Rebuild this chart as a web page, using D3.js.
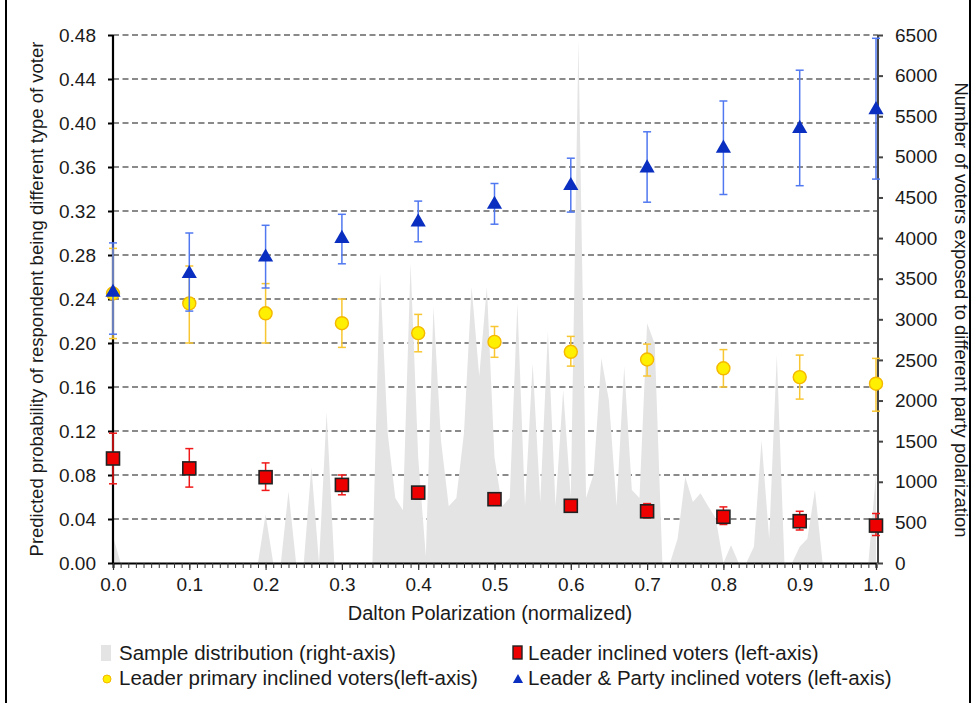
<!DOCTYPE html>
<html>
<head>
<meta charset="utf-8">
<script src="https://d3js.org/d3.v7.min.js"></script>
<style>
body { margin: 0; background: #fff; }
svg text { font-family: "Liberation Sans", Arial, sans-serif; fill: #1a1a1a; }
</style>
</head>
<body>
<div id="chart"></div>
<script>
// polarization levels for the three voter groups
var levels = [0.0, 0.1, 0.2, 0.3, 0.4, 0.5, 0.6, 0.7, 0.8, 0.9, 1.0];

var leader   = [0.095, 0.086, 0.078, 0.071, 0.064, 0.058, 0.052, 0.047, 0.042, 0.038, 0.034];
var leaderLo = [0.072, 0.069, 0.066, 0.062, 0.058, 0.054, 0.048, 0.041, 0.035, 0.030, 0.025];
var leaderHi = [0.118, 0.104, 0.091, 0.080, 0.069, 0.062, 0.057, 0.054, 0.051, 0.047, 0.045];

var primary   = [0.245, 0.236, 0.227, 0.218, 0.209, 0.201, 0.192, 0.185, 0.177, 0.169, 0.163];
var primaryLo = [0.204, 0.200, 0.200, 0.196, 0.192, 0.187, 0.179, 0.170, 0.160, 0.149, 0.138];
var primaryHi = [0.286, 0.270, 0.254, 0.240, 0.226, 0.215, 0.206, 0.199, 0.194, 0.189, 0.186];

var party   = [0.246, 0.263, 0.278, 0.295, 0.310, 0.326, 0.343, 0.359, 0.377, 0.395, 0.412];
var partyLo = [0.208, 0.229, 0.250, 0.272, 0.292, 0.308, 0.319, 0.328, 0.335, 0.343, 0.349];
var partyHi = [0.291, 0.300, 0.307, 0.317, 0.329, 0.345, 0.368, 0.392, 0.420, 0.448, 0.477];

// sample distribution, one value per 0.01 step (right axis)
var sample = [
  330, 0, 0, 0, 0, 0, 0, 0, 0, 0,
  0, 0, 0, 0, 0, 0, 0, 0, 0, 0,
  600, 0, 0, 880, 0, 0, 1180, 0, 1860, 0,
  0, 0, 0, 0, 0, 3570, 1600, 800, 650, 3690,
  1300, 80, 3150, 1500, 700, 800, 1600, 3400, 2300, 3400,
  1300, 700, 800, 3200, 700, 2460, 750, 2850, 700, 2130,
  800, 6440, 800, 1100, 2520, 2000, 700, 2420, 900, 800,
  2950, 2700, 0, 0, 300, 1060, 750, 860, 700, 550,
  0, 220, 0, 0, 200, 1510, 300, 2560, 0, 0,
  200, 300, 900, 0, 0, 0, 0, 0, 0, 0,
  1100
];
var samplePos = d3.range(sample.length).map(function(i) { return i / 100; });

var leftTicks = [0, 0.04, 0.08, 0.12, 0.16, 0.20, 0.24, 0.28, 0.32, 0.36, 0.40, 0.44, 0.48];
var rightTicks = [0, 500, 1000, 1500, 2000, 2500, 3000, 3500, 4000, 4500, 5000, 5500, 6000, 6500];

var W = 979, H = 703;
var svg = d3.select("#chart").append("svg").attr("width", W).attr("height", H);

var x = d3.scaleLinear().domain([0, 1]).range([113, 876]);
var y = d3.scaleLinear().domain([0, 0.48]).range([563, 35]);
var y2 = d3.scaleLinear().domain([0, 6500]).range([563, 35]);

// frame sides
svg.append("line").attr("x1", 6).attr("x2", 6).attr("y1", 0).attr("y2", H).attr("stroke", "#000").attr("stroke-width", 2);
svg.append("line").attr("x1", 970).attr("x2", 970).attr("y1", 0).attr("y2", H).attr("stroke", "#000").attr("stroke-width", 2);

// grid
svg.append("g").selectAll("line").data(leftTicks.slice(1)).enter().append("line")
  .attr("x1", x(0)).attr("x2", 878)
  .attr("y1", function(d) { return y(d); }).attr("y2", function(d) { return y(d); })
  .attr("stroke", "#8a8a8a").attr("stroke-width", 2).attr("stroke-dasharray", "6,3.5");

// sample distribution
var area = d3.area()
  .x(function(d, i) { return x(samplePos[i]); })
  .y0(y2(0))
  .y1(function(d) { return y2(d); });
svg.append("path").datum(sample).attr("d", area).attr("fill", "#e4e4e4");

// axes
var gx = svg.append("g").attr("transform", "translate(0," + y(0) + ")")
  .call(d3.axisBottom(x).tickValues(samplePos).tickSize(5).tickFormat(""));
gx.select(".domain").attr("stroke", "#000").attr("stroke-width", 2);
gx.selectAll(".tick line").attr("stroke", "#333").attr("stroke-width", 1);
var gxl = svg.append("g").attr("transform", "translate(0," + y(0) + ")")
  .call(d3.axisBottom(x).tickValues(levels).tickSize(7).tickFormat(d3.format(".1f")));
gxl.select(".domain").remove();
gxl.selectAll(".tick line").attr("stroke", "#333").attr("stroke-width", 1.2);
gxl.selectAll("text").attr("font-size", 19).attr("dy", "0.95em");

var gl = svg.append("g").attr("transform", "translate(" + x(0) + ",0)")
  .call(d3.axisLeft(y).tickValues(leftTicks).tickSize(5).tickPadding(12).tickFormat(d3.format(".2f")));
gl.select(".domain").attr("stroke", "#000").attr("stroke-width", 2.2).attr("d", "M0," + y(0) + "V" + y(0.48));
gl.selectAll(".tick line").attr("stroke", "#000").attr("stroke-width", 2);
gl.selectAll("text").attr("font-size", 19);

var gr = svg.append("g").attr("transform", "translate(878,0)")
  .call(d3.axisRight(y2).tickValues(rightTicks).tickSize(5).tickPadding(12).tickFormat(d3.format("d")));
gr.select(".domain").attr("stroke", "#444").attr("stroke-width", 2).attr("d", "M0," + y2(0) + "V" + y2(6500));
gr.selectAll(".tick line").attr("stroke", "#444").attr("stroke-width", 2);
gr.selectAll("text").attr("font-size", 19);

// error bars and markers
function errorBars(lo, hi, color) {
  var g = svg.append("g").attr("stroke", color).attr("stroke-width", 1.5);
  levels.forEach(function(v, i) {
    var cx = x(v);
    g.append("line").attr("x1", cx).attr("x2", cx).attr("y1", y(lo[i])).attr("y2", y(hi[i]));
    g.append("line").attr("x1", cx - 4).attr("x2", cx + 4).attr("y1", y(lo[i])).attr("y2", y(lo[i]));
    g.append("line").attr("x1", cx - 4).attr("x2", cx + 4).attr("y1", y(hi[i])).attr("y2", y(hi[i]));
  });
}

errorBars(leaderLo, leaderHi, "#f01818");
svg.append("g").selectAll("rect").data(leader).enter().append("rect")
  .attr("x", function(d, i) { return x(levels[i]) - 6.5; })
  .attr("y", function(d) { return y(d) - 6.5; })
  .attr("width", 13).attr("height", 13)
  .attr("fill", "#ee0000").attr("stroke", "#222").attr("stroke-width", 1.6);

errorBars(primaryLo, primaryHi, "#f8c630");
svg.append("g").selectAll("circle").data(primary).enter().append("circle")
  .attr("cx", function(d, i) { return x(levels[i]); })
  .attr("cy", function(d) { return y(d); })
  .attr("r", 6.5)
  .attr("fill", "#ffef00").attr("stroke", "#f4b800").attr("stroke-width", 1.4);

errorBars(partyLo, partyHi, "#5078f0");
var tri = d3.symbol().type(d3.symbolTriangle).size(100);
svg.append("g").selectAll("path").data(party).enter().append("path")
  .attr("d", tri)
  .attr("transform", function(d, i) { return "translate(" + x(levels[i]) + "," + y(d) + ")"; })
  .attr("fill", "#0a2fc0");

// titles
svg.append("text").attr("x", 490).attr("y", 620).attr("text-anchor", "middle")
  .attr("font-size", 20).text("Dalton Polarization (normalized)");
svg.append("text").attr("transform", "translate(43," + ((y(0) + y(0.48)) / 2) + ") rotate(-90)")
  .attr("text-anchor", "middle").attr("font-size", 18.5)
  .text("Predicted probability of respondent being different type of voter");
svg.append("text").attr("transform", "translate(955,310) rotate(90)")
  .attr("text-anchor", "middle").attr("font-size", 18.5)
  .text("Number of voters exposed to different party polarization");

// legend
var lg = svg.append("g");
lg.append("rect").attr("x", 101).attr("y", 645).attr("width", 10).attr("height", 16).attr("fill", "#e4e4e4");
lg.append("text").attr("x", 119).attr("y", 660).attr("font-size", 20.5).text("Sample distribution (right-axis)");
lg.append("rect").attr("x", 513).attr("y", 646).attr("width", 9).attr("height", 13)
  .attr("fill", "#ee0000").attr("stroke", "#222").attr("stroke-width", 1.4);
lg.append("text").attr("x", 528).attr("y", 660).attr("font-size", 20.5).text("Leader inclined voters (left-axis)");
lg.append("circle").attr("cx", 107).attr("cy", 679).attr("r", 4)
  .attr("fill", "#ffef00").attr("stroke", "#f4b800").attr("stroke-width", 1);
lg.append("text").attr("x", 119).attr("y", 685).attr("font-size", 20.5).text("Leader primary inclined voters(left-axis)");
lg.append("path").attr("d", d3.symbol().type(d3.symbolTriangle).size(45))
  .attr("transform", "translate(518,680)").attr("fill", "#0a2fc0");
lg.append("text").attr("x", 528).attr("y", 685).attr("font-size", 20.5).text("Leader & Party inclined voters (left-axis)");
</script>
</body>
</html>
